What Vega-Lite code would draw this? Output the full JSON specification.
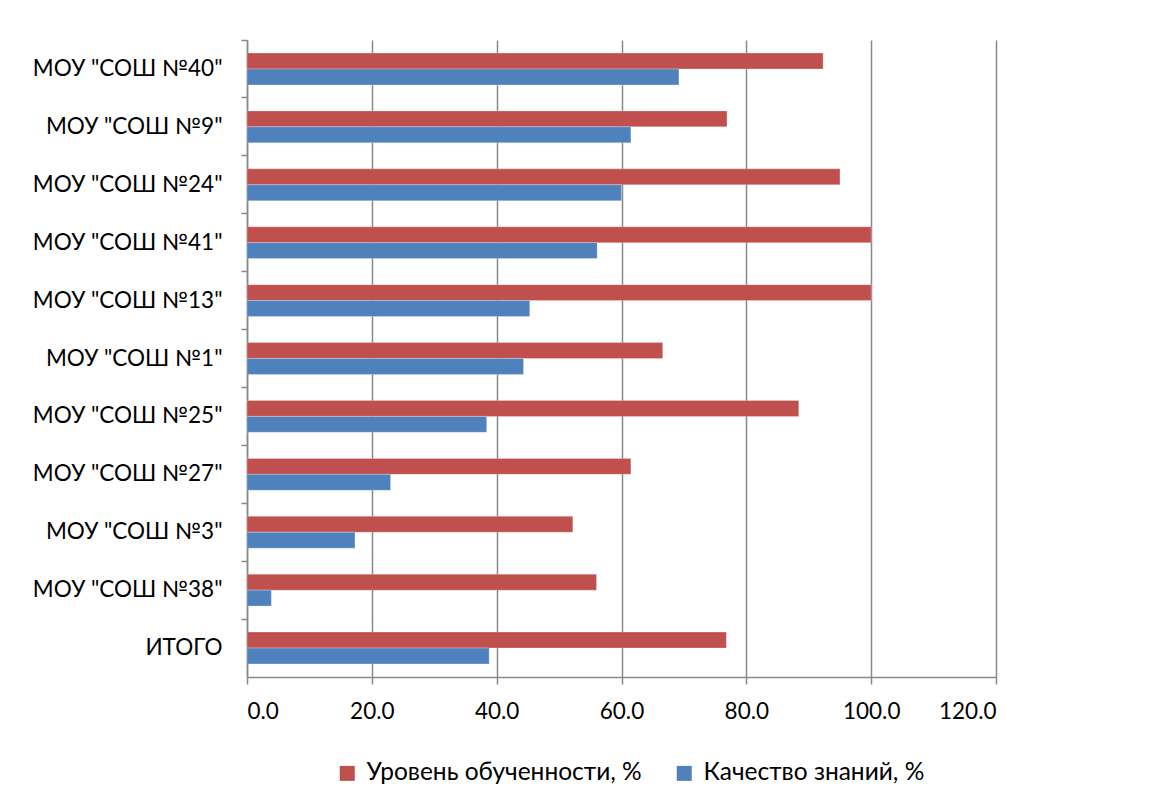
{
  "$schema": "https://vega.github.io/schema/vega-lite/v6.json",
  "autosize": {"type": "none"},
  "padding": {"left": 247, "top": 40, "right": 177, "bottom": 132},
  "width": 749,
  "height": 637,
  "background": "white",
  "config": {
    "view": {"stroke": null},
    "font": "Lato",
    "axis": {"labelFont": "Lato", "labelFontSize": 22.5, "labelColor": "#000000", "labelLimit": 0},
    "legend": {"labelFont": "Lato", "labelFontSize": 24.5, "labelColor": "#000000", "labelLimit": 0}
  },
  "data": {
    "values": [
      {"school": "МОУ \"СОШ №40\"", "series": "Уровень обученности, %", "value": 92.3},
      {"school": "МОУ \"СОШ №40\"", "series": "Качество знаний, %", "value": 69.2},
      {"school": "МОУ \"СОШ №9\"", "series": "Уровень обученности, %", "value": 76.9},
      {"school": "МОУ \"СОШ №9\"", "series": "Качество знаний, %", "value": 61.5},
      {"school": "МОУ \"СОШ №24\"", "series": "Уровень обученности, %", "value": 95.0},
      {"school": "МОУ \"СОШ №24\"", "series": "Качество знаний, %", "value": 60.0},
      {"school": "МОУ \"СОШ №41\"", "series": "Уровень обученности, %", "value": 100.0},
      {"school": "МОУ \"СОШ №41\"", "series": "Качество знаний, %", "value": 56.1},
      {"school": "МОУ \"СОШ №13\"", "series": "Уровень обученности, %", "value": 100.0},
      {"school": "МОУ \"СОШ №13\"", "series": "Качество знаний, %", "value": 45.3},
      {"school": "МОУ \"СОШ №1\"", "series": "Уровень обученности, %", "value": 66.6},
      {"school": "МОУ \"СОШ №1\"", "series": "Качество знаний, %", "value": 44.3},
      {"school": "МОУ \"СОШ №25\"", "series": "Уровень обученности, %", "value": 88.4},
      {"school": "МОУ \"СОШ №25\"", "series": "Качество знаний, %", "value": 38.4},
      {"school": "МОУ \"СОШ №27\"", "series": "Уровень обученности, %", "value": 61.5},
      {"school": "МОУ \"СОШ №27\"", "series": "Качество знаний, %", "value": 23.0},
      {"school": "МОУ \"СОШ №3\"", "series": "Уровень обученности, %", "value": 52.2},
      {"school": "МОУ \"СОШ №3\"", "series": "Качество знаний, %", "value": 17.3},
      {"school": "МОУ \"СОШ №38\"", "series": "Уровень обученности, %", "value": 56.0},
      {"school": "МОУ \"СОШ №38\"", "series": "Качество знаний, %", "value": 3.9},
      {"school": "ИТОГО", "series": "Уровень обученности, %", "value": 76.8},
      {"school": "ИТОГО", "series": "Качество знаний, %", "value": 38.8}
    ]
  },
  "mark": {"type": "bar", "stroke": "white", "strokeOpacity": 0.5, "strokeWidth": 0.5},
  "encoding": {
    "y": {
      "field": "school",
      "type": "nominal",
      "sort": null,
      "title": null,
      "scale": {"paddingInner": 0.45, "paddingOuter": 0.225},
      "axis": {
        "domainColor": "#898989",
        "domainWidth": 1.5,
        "tickColor": "#898989",
        "tickWidth": 1.5,
        "tickSize": 6,
        "bandPosition": -0.409,
        "labelPadding": 19,
        "labelFontSize": 22.5,
        "grid": false
      }
    },
    "x": {
      "field": "value",
      "type": "quantitative",
      "title": null,
      "scale": {"domain": [0, 120], "nice": false},
      "axis": {
        "values": [0, 20, 40, 60, 80, 100, 120],
        "format": ".1f",
        "grid": true,
        "gridColor": "#898989",
        "gridWidth": 1.5,
        "domainColor": "#898989",
        "domainWidth": 1.5,
        "tickColor": "#898989",
        "tickWidth": 1.5,
        "tickSize": 7,
        "labelPadding": 16,
        "labelFontSize": 22.5
      }
    },
    "yOffset": {
      "field": "series",
      "type": "nominal",
      "sort": ["Уровень обученности, %", "Качество знаний, %"]
    },
    "color": {
      "field": "series",
      "type": "nominal",
      "sort": ["Уровень обученности, %", "Качество знаний, %"],
      "scale": {"domain": ["Уровень обученности, %", "Качество знаний, %"], "range": ["#C0504D", "#4F81BD"]},
      "legend": {
        "title": null,
        "orient": "none",
        "direction": "horizontal",
        "legendX": 88,
        "legendY": 721,
        "symbolType": "square",
        "symbolSize": 225,
        "symbolStrokeWidth": 0,
        "columnPadding": 30,
        "labelOffset": 7,
        "labelFontSize": 24.5,
        "labelLimit": 0
      }
    }
  }
}
